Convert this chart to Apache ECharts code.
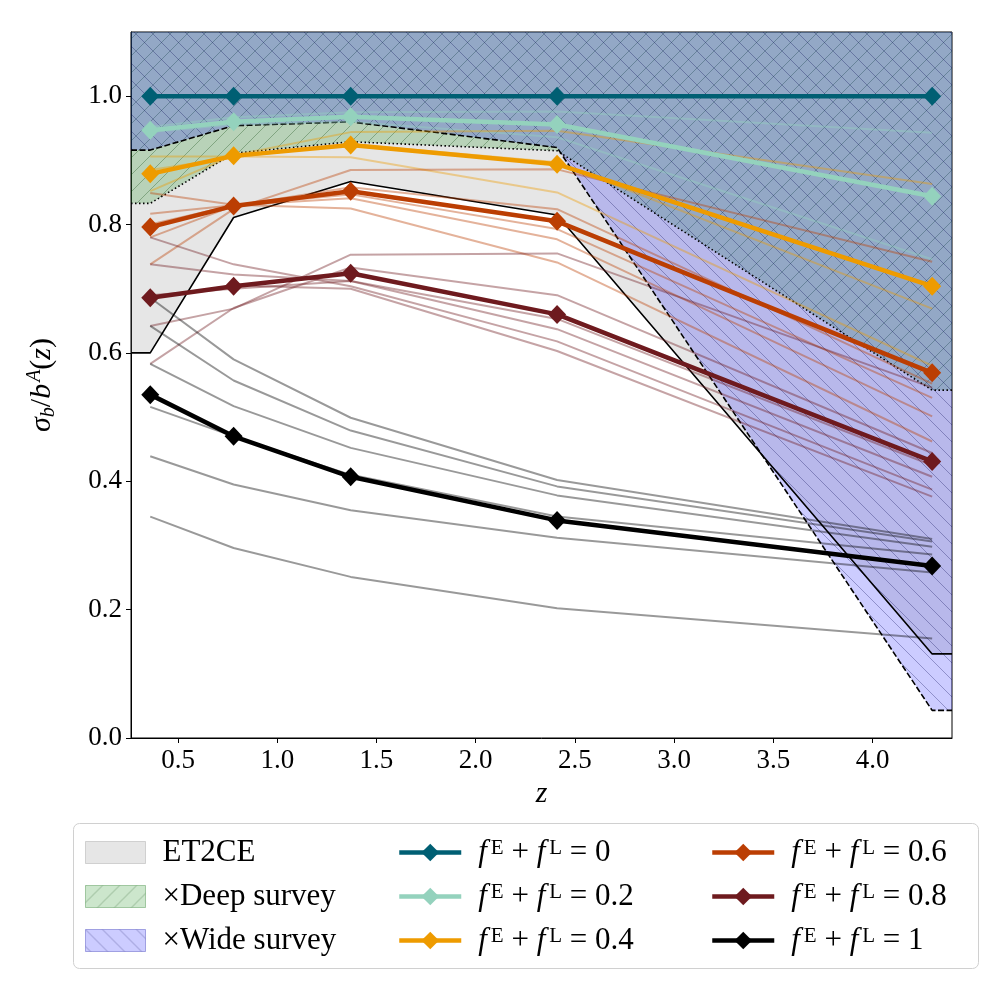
<!DOCTYPE html>
<html>
<head>
<meta charset="utf-8">
<script src="https://cdn.jsdelivr.net/npm/echarts@6/dist/echarts.min.js"></script>
<style>
  html, body { margin: 0; padding: 0; background: #fff; }
  #chart { width: 1008px; height: 1008px; }
</style>
</head>
<body>
<div id="chart"></div>
<script>
// redshift bins
var zBins = [0.36, 0.78, 1.37, 2.41, 4.30];
var zMin = 0.263, zMax = 4.4;
var xTicks = [0.5, 1.0, 1.5, 2.0, 2.5, 3.0, 3.5, 4.0];
var yTicks = [0.0, 0.2, 0.4, 0.6, 0.8, 1.0];

// survey bands (lower edge of each shaded area)
var et2ce = [0.600, 0.811, 0.867, 0.815, 0.131];
var deepSurvey = [0.833, 0.911, 0.929, 0.915, 0.542];
var wideSurvey = [0.916, 0.954, 0.960, 0.920, 0.043];

// main curves, f^E + f^L
var fLabels = ['0', '0.2', '0.4', '0.6', '0.8', '1'];
var fColors = ['#005f73', '#94d2bd', '#ee9b00', '#bb3e03', '#6e1a1e', '#000000'];
var mainF00 = [1.000, 1.000, 1.000, 1.000, 1.000];
var mainF02 = [0.947, 0.960, 0.968, 0.956, 0.844];
var mainF04 = [0.879, 0.907, 0.924, 0.894, 0.704];
var mainF06 = [0.796, 0.829, 0.852, 0.805, 0.569];
var mainF08 = [0.686, 0.704, 0.724, 0.660, 0.431];
var mainF10 = [0.535, 0.470, 0.407, 0.339, 0.268];

// faint curves (different f^E / f^L splits)
var thinF02 = [
  [0.952, 0.967, 0.975, 0.976, 0.943],
  [0.944, 0.956, 0.960, 0.936, 0.746]
];
var thinF04 = [
  [0.852, 0.908, 0.944, 0.946, 0.863],
  [0.906, 0.906, 0.905, 0.850, 0.580],
  [0.885, 0.905, 0.925, 0.897, 0.669]
];
var thinF06 = [
  [0.738, 0.824, 0.885, 0.886, 0.742],
  [0.780, 0.829, 0.858, 0.824, 0.552],
  [0.800, 0.830, 0.847, 0.793, 0.530],
  [0.817, 0.830, 0.841, 0.777, 0.501],
  [0.849, 0.831, 0.825, 0.741, 0.462]
];
var thinF08 = [
  [0.642, 0.669, 0.753, 0.755, 0.546],
  [0.583, 0.670, 0.733, 0.690, 0.444],
  [0.690, 0.700, 0.712, 0.653, 0.425],
  [0.738, 0.722, 0.712, 0.637, 0.407],
  [0.780, 0.738, 0.704, 0.618, 0.387],
  [0.686, 0.705, 0.700, 0.603, 0.376]
];
var thinF10 = [
  [0.686, 0.590, 0.499, 0.402, 0.310],
  [0.642, 0.557, 0.479, 0.392, 0.306],
  [0.583, 0.517, 0.452, 0.378, 0.298],
  [0.516, 0.470, 0.410, 0.345, 0.286],
  [0.439, 0.395, 0.355, 0.312, 0.258],
  [0.345, 0.296, 0.251, 0.202, 0.155]
];

var FONT = 'Liberation Serif';

function pairs(vals) {
  return zBins.map(function (z, i) { return [z, vals[i]]; });
}
// band edges run flat out to the axis limits
function bandPairs(vals) {
  return [[zMin, vals[0]]].concat(pairs(vals), [[zMax, vals[vals.length - 1]]]);
}

// matplotlib-like hatch tile
function hatch(base, lineColor, dir) {
  var s = 17;
  var c = document.createElement('canvas');
  c.width = s; c.height = s;
  var g = c.getContext('2d');
  g.fillStyle = base;
  g.fillRect(0, 0, s, s);
  g.strokeStyle = lineColor;
  g.lineWidth = 1;
  g.beginPath();
  if (dir === '/') {
    g.moveTo(-1, s + 1); g.lineTo(s + 1, -1);
    g.moveTo(-1, 1); g.lineTo(1, -1);
    g.moveTo(s - 1, s + 1); g.lineTo(s + 1, s - 1);
  } else {
    g.moveTo(-1, -1); g.lineTo(s + 1, s + 1);
    g.moveTo(s - 1, -1); g.lineTo(s + 1, 1);
    g.moveTo(-1, s - 1); g.lineTo(1, s + 1);
  }
  g.stroke();
  return { image: c, repeat: 'repeat' };
}

var grayFill = 'rgba(128,128,128,0.2)';
var greenFill = hatch('rgba(0,128,0,0.2)', 'rgba(0,60,0,0.3)', '/');
var blueFill = hatch('rgba(0,0,255,0.2)', 'rgba(0,0,80,0.3)', '\\');

function bandSeries(name, vals, fill, dash) {
  return {
    name: name,
    type: 'line',
    data: bandPairs(vals),
    symbol: 'none',
    silent: true,
    z: 1,
    lineStyle: { color: '#000', width: 1.6, type: dash },
    itemStyle: { color: '#000' },
    areaStyle: { color: fill, origin: 'end', opacity: 1 }
  };
}

var series = [
  bandSeries('ET2CE', et2ce, grayFill, 'solid'),
  bandSeries('Deep', deepSurvey, greenFill, [1.5, 2.5]),
  bandSeries('Wide', wideSurvey, blueFill, [6, 2.5])
];

var thinSets = [[], thinF02, thinF04, thinF06, thinF08, thinF10];
thinSets.forEach(function (set, k) {
  set.forEach(function (vals) {
    series.push({
      type: 'line',
      data: pairs(vals),
      symbol: 'none',
      silent: true,
      z: 2,
      lineStyle: { color: fColors[k], width: 2, opacity: 0.4 }
    });
  });
});

var mainSets = [mainF00, mainF02, mainF04, mainF06, mainF08, mainF10];
var fNames = ['f0', 'f02', 'f04', 'f06', 'f08', 'f10'];
mainSets.forEach(function (vals, k) {
  series.push({
    name: fNames[k],
    type: 'line',
    data: pairs(vals),
    symbol: 'diamond',
    symbolSize: [18, 19],
    z: 3,
    lineStyle: { color: fColors[k], width: 4.5 },
    itemStyle: { color: fColors[k] }
  });
});

var legendText = { ET2CE: 'ET2CE', Deep: '×Deep survey', Wide: '×Wide survey' };
fNames.forEach(function (n, k) {
  legendText[n] = '{i|f}{s|E} + {i|f}{s|L} = ' + fLabels[k];
});

var legendTextStyle = {
  fontFamily: FONT, fontSize: 31, color: '#000', lineHeight: 30,
  padding: [0, 0, 0, 12],
  rich: {
    i: { fontFamily: FONT, fontSize: 31, fontStyle: 'italic', color: '#000', lineHeight: 30 },
    s: { fontFamily: FONT, fontSize: 21, color: '#000', verticalAlign: 'top', lineHeight: 10, padding: [0, 0, 0, 4] }
  }
};

function legendCol(left, data, w, h) {
  return {
    orient: 'vertical',
    left: left,
    top: 837,
    padding: 0,
    itemWidth: w,
    itemHeight: h,
    itemGap: 13,
    selectedMode: false,
    data: data,
    lineStyle: { width: 4.5 },
    formatter: function (name) { return legendText[name]; },
    textStyle: legendTextStyle
  };
}

var chart = echarts.init(document.getElementById('chart'), null, { renderer: 'canvas' });

chart.setOption({
  animation: false,
  backgroundColor: '#fff',
  grid: {
    left: 131, right: 56, top: 32, bottom: 270,
    show: true, borderColor: '#000', borderWidth: 1, backgroundColor: 'transparent'
  },
  xAxis: {
    type: 'value',
    min: zMin, max: zMax,
    name: 'z',
    nameLocation: 'middle',
    nameGap: 34,
    nameTextStyle: { fontFamily: FONT, fontSize: 30, fontStyle: 'italic', color: '#000' },
    axisLine: { show: true, lineStyle: { color: '#000', width: 1 } },
    axisTick: { show: true, length: 5, lineStyle: { color: '#000' }, customValues: xTicks },
    axisLabel: {
      customValues: xTicks, fontFamily: FONT, fontSize: 27, color: '#000', margin: 9,
      formatter: function (v) { return v.toFixed(1); }
    },
    splitLine: { show: false }
  },
  yAxis: {
    type: 'value',
    min: 0, max: 1.1,
    name: '{i|σ}{sb|b}{n|/}{i|b}{sp|A}{n|(}{i|z}{n|)}',
    nameLocation: 'middle',
    nameRotate: 90,
    nameGap: 72,
    nameTextStyle: {
      fontFamily: FONT, fontSize: 30, color: '#000',
      rich: {
        n: { fontFamily: FONT, fontSize: 30, color: '#000', lineHeight: 34 },
        i: { fontFamily: FONT, fontSize: 30, fontStyle: 'italic', color: '#000', lineHeight: 34 },
        sb: { fontFamily: FONT, fontSize: 20, fontStyle: 'italic', color: '#000', verticalAlign: 'bottom', lineHeight: 14 },
        sp: { fontFamily: FONT, fontSize: 20, fontStyle: 'italic', color: '#000', verticalAlign: 'top', lineHeight: 12, padding: [0, 0, 0, 2] }
      }
    },
    axisLine: { show: true, lineStyle: { color: '#000', width: 1 } },
    axisTick: { show: true, length: 5, lineStyle: { color: '#000' }, customValues: yTicks },
    axisLabel: {
      customValues: yTicks, fontFamily: FONT, fontSize: 27, color: '#000', margin: 9,
      formatter: function (v) { return v.toFixed(1); }
    },
    splitLine: { show: false }
  },
  legend: [
    legendCol(85, [
      { name: 'ET2CE', icon: 'rect', itemStyle: { color: grayFill, borderColor: 'rgba(128,128,128,0.3)', borderWidth: 1 } },
      { name: 'Deep', icon: 'rect', itemStyle: { color: greenFill, borderColor: 'rgba(0,100,0,0.3)', borderWidth: 1 } },
      { name: 'Wide', icon: 'rect', itemStyle: { color: blueFill, borderColor: 'rgba(0,0,160,0.3)', borderWidth: 1 } }
    ], 60, 22),
    legendCol(397, ['f0', 'f02', 'f04'], 62, 22),
    legendCol(710, ['f06', 'f08', 'f10'], 62, 22)
  ],
  graphic: [{
    type: 'rect',
    z: -1,
    silent: true,
    shape: { x: 73.5, y: 823.5, width: 905, height: 145, r: 6 },
    style: { fill: '#fff', stroke: '#d0d0d0', lineWidth: 1 }
  }],
  series: series
});
</script>
</body>
</html>
